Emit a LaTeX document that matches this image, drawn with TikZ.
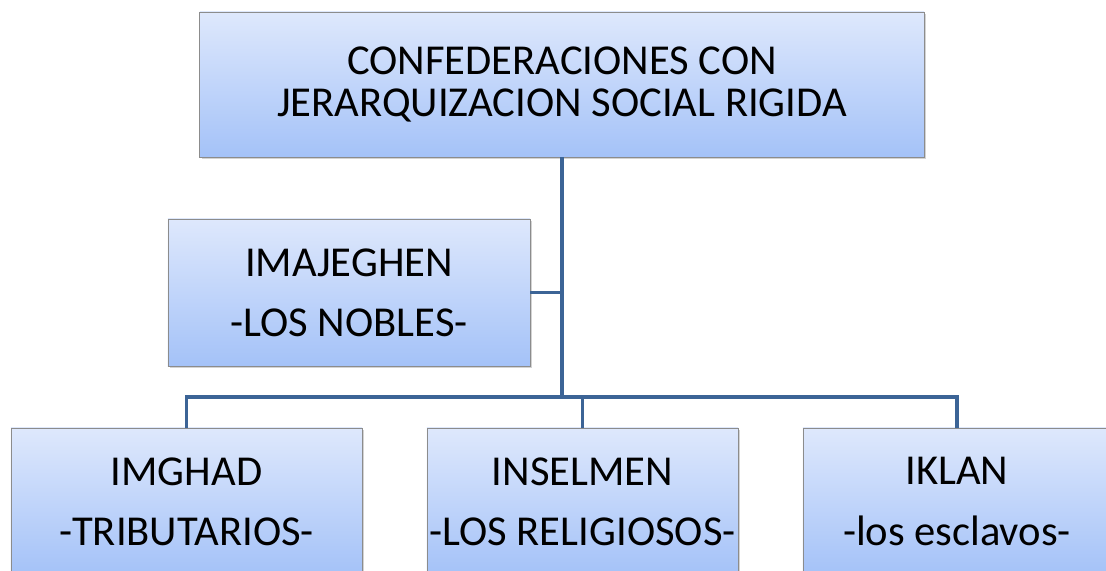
\documentclass[tikz,border=0pt]{standalone}
\usepackage{fontspec}
\setmainfont{Carlito}
\usepackage{tikz}
\usetikzlibrary{shadows}
\definecolor{blu}{HTML}{3C6496}
\definecolor{boxtop}{HTML}{DEE8FC}
\definecolor{boxbot}{HTML}{A4C2F8}
\definecolor{boxline}{HTML}{8C8C8C}
\tikzset{
    rango/.style={draw=boxline, line width=0.6pt, top color=boxtop, bottom color=boxbot,
        inner sep=0pt, align=center, minimum height=3.675cm,
        drop shadow={shadow xshift=1.5pt, shadow yshift=-1.5pt, opacity=0.35},
        font=\fontsize{30.3}{42.7}\selectfont},
    conexion/.style={color=blu, line width=2.8pt}
}
\begin{document}
\begin{tikzpicture}[x=0.025cm, y=-0.025cm]
        \useasboundingbox (0,0) rectangle (1106,571);
        \node[rango, minimum width=18.1cm, minimum height=3.625cm,
              font=\fontsize{30.3}{30}\selectfont] (confed) at (562,84.5)
              {CONFEDERACIONES CON\\JERARQUIZACION SOCIAL RIGIDA};
        \node[rango, minimum width=9.05cm]  (imajeghen) at (349,292.5) {IMAJEGHEN\\-LOS NOBLES-};
        \node[rango, minimum width=8.775cm] (imghad)    at (186.5,501.5) {IMGHAD\\-TRIBUTARIOS-};
        \node[rango, minimum width=7.775cm] (inselmen)  at (582.5,501.5) {INSELMEN\\-LOS RELIGIOSOS-};
        \node[rango, minimum width=7.7cm]   (iklan)     at (957,501.5)   {IKLAN\\-los esclavos-};
        \coordinate (eje) at (confed.south |- 0,397);
        \draw[conexion] (confed.south) -- (eje);
        \draw[conexion] (imajeghen.east) -- (imajeghen.east -| eje);
        \draw[conexion] (imghad.north) |- (eje) -| (iklan.north);
        \draw[conexion] (eje) -| (inselmen.north);
    \end{tikzpicture}
\end{document}
